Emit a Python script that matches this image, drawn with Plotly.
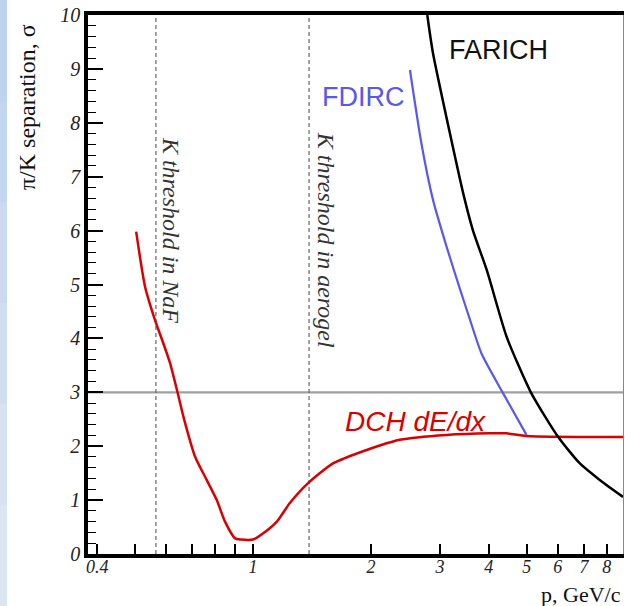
import plotly.graph_objects as go
import math

# ---- data ----
dch_p = [0.503, 0.530, 0.562, 0.590, 0.614, 0.641, 0.664, 0.711, 0.762, 0.808, 0.848, 0.900,
         0.93, 1.00, 1.06, 1.15, 1.24, 1.38, 1.60, 1.95, 2.37, 3.12, 4.02, 4.44, 4.99, 8.9]
dch_s = [5.98, 4.96, 4.34, 3.91, 3.54, 3.01, 2.55, 1.81, 1.37, 1.00, 0.60, 0.29,
         0.27, 0.27, 0.38, 0.60, 0.94, 1.31, 1.68, 1.93, 2.12, 2.21, 2.24, 2.24, 2.19, 2.17]

fdirc_p = [2.515, 2.69, 2.88, 3.12, 3.38, 3.56, 3.83, 4.35, 4.99]
fdirc_s = [8.98, 7.62, 6.57, 5.70, 4.90, 4.40, 3.72, 2.98, 2.21]

farich_p = [2.785, 2.88, 3.18, 3.44, 3.64, 3.95, 4.44, 5.12, 6.0, 6.83, 7.69, 8.8]
farich_s = [10.0, 9.29, 7.81, 6.69, 6.01, 5.27, 4.03, 3.00, 2.18, 1.68, 1.37, 1.06]

threshold_sigma = 3
k_thresholds = [0.565, 1.39]
threshold_labels = ["K threshold in NaF", "K threshold in aerogel"]
threshold_label_pos = [(0.618, 6.01), (1.536, 5.83)]

x_tickvals = [0.4, 1, 2, 3, 4, 5, 6, 7, 8]
x_ticktext = ["0.4", "1", "2", "3", "4", "5", "6", "7", "8"]
x_minor = [0.5, 0.6, 0.7, 0.8, 0.9]
y_tickvals = list(range(0, 11))
x_range = [0.379, 8.8]
y_range = [0, 10]

serif = "Liberation Serif, Times New Roman, serif"
sans = "Liberation Sans, Arial, sans-serif"

fig = go.Figure()

fig.add_trace(go.Scatter(x=dch_p, y=dch_s, mode="lines",
                         line=dict(color="#d80000", width=2.5, shape="spline", smoothing=0.6),
                         showlegend=False))
fig.add_trace(go.Scatter(x=fdirc_p, y=fdirc_s, mode="lines",
                         line=dict(color="#5858ee", width=2.2, shape="spline", smoothing=0.6),
                         showlegend=False))
fig.add_trace(go.Scatter(x=farich_p, y=farich_s, mode="lines",
                         line=dict(color="#000000", width=2.5, shape="spline", smoothing=0.6),
                         showlegend=False))
# dummy trace for right frame axis
fig.add_trace(go.Scatter(x=[], y=[], yaxis="y2", showlegend=False))

# horizontal 3-sigma line
fig.add_hline(y=threshold_sigma, line=dict(color="#a0a0a0", width=2.2), layer="below")
# vertical dashed threshold lines
for xv in k_thresholds:
    fig.add_vline(x=xv, line=dict(color="#666666", width=1.2, dash="4px,3px"), layer="below")

# threshold texts
for txt, (px, py) in zip(threshold_labels, threshold_label_pos):
    fig.add_annotation(x=math.log10(px), y=py, text=txt, textangle=90, showarrow=False,
                       font=dict(family=serif, size=24, color="#333333", style="italic"))

# curve labels
fig.add_annotation(x=math.log10(3.126), y=9.35, text="FARICH", showarrow=False, xanchor="left",
                   font=dict(family=sans, size=27, color="#111111"))
fig.add_annotation(x=math.log10(1.482), y=8.48, text="FDIRC", showarrow=False, xanchor="left",
                   font=dict(family=sans, size=27, color="#5858ee"))
fig.add_annotation(x=math.log10(1.697), y=2.45, text="DCH dE/dx", showarrow=False, xanchor="left",
                   font=dict(family=sans, size=28, color="#d80000", style="italic"))

# axis titles as annotations
fig.add_annotation(xref="paper", yref="paper", x=(27 - 88) / 535, y=(554 - 107) / 539,
                   xanchor="center", yanchor="middle",
                   text="π/K separation, σ", textangle=-90, showarrow=False,
                   font=dict(family=serif, size=24, color="#111111"))
fig.add_annotation(xref="paper", yref="paper", x=1.0, y=(554 - 594) / 539,
                   xanchor="right", yanchor="middle",
                   text="p, GeV/c", showarrow=False,
                   font=dict(family=serif, size=22, color="#111111"))

# left blue strip (gradient approximated)
strip_cols = ["#bed3ef", "#c4d6ef", "#cbdaf0", "#d1def1", "#d7e2f2", "#dce5f2"]
n = len(strip_cols)
for i, c in enumerate(strip_cols):
    fig.add_shape(type="rect", xref="paper", yref="paper",
                  x0=-88 / 535, x1=(7 - 88) / 535,
                  y0=1 + 15 / 539 - (i + 1) * (606 / 539) / n, y1=1 + 15 / 539 - i * (606 / 539) / n,
                  fillcolor=c, line=dict(width=0), layer="below")

fig.update_layout(
    width=625, height=606,
    margin=dict(l=88, r=2, t=15, b=52),
    paper_bgcolor="white", plot_bgcolor="white",
    xaxis=dict(type="log", range=[math.log10(x_range[0]), math.log10(x_range[1])],
               tickvals=x_tickvals, ticktext=x_ticktext, ticks="inside", ticklen=10,
               tickwidth=1.5, tickcolor="black",
               minor=dict(tickvals=x_minor, ticks="inside", ticklen=10, tickwidth=1.5,
                          tickcolor="black", showgrid=False),
               showgrid=False, zeroline=False, showline=True, linewidth=3.5,
               linecolor="black", mirror=True, ticklabelstandoff=-6,
               tickfont=dict(family=serif, size=18, color="#222222", style="italic")),
    yaxis=dict(range=y_range, tickvals=y_tickvals, ticks="inside", ticklen=15, tickwidth=1.5,
               tickcolor="black",
               minor=dict(dtick=0.2, ticks="inside", ticklen=8, tickwidth=1.3,
                          tickcolor="black", showgrid=False),
               showgrid=False, zeroline=False, showline=True, linewidth=3.5,
               linecolor="black", ticklabelstandoff=0,
               tickfont=dict(family=serif, size=20, color="#222222", style="italic")),
    yaxis2=dict(overlaying="y", side="right", range=y_range, showline=True, linewidth=1,
                linecolor="#888888", showticklabels=False, ticks="", showgrid=False,
                zeroline=False),
)

fig.write_html("out.html")
